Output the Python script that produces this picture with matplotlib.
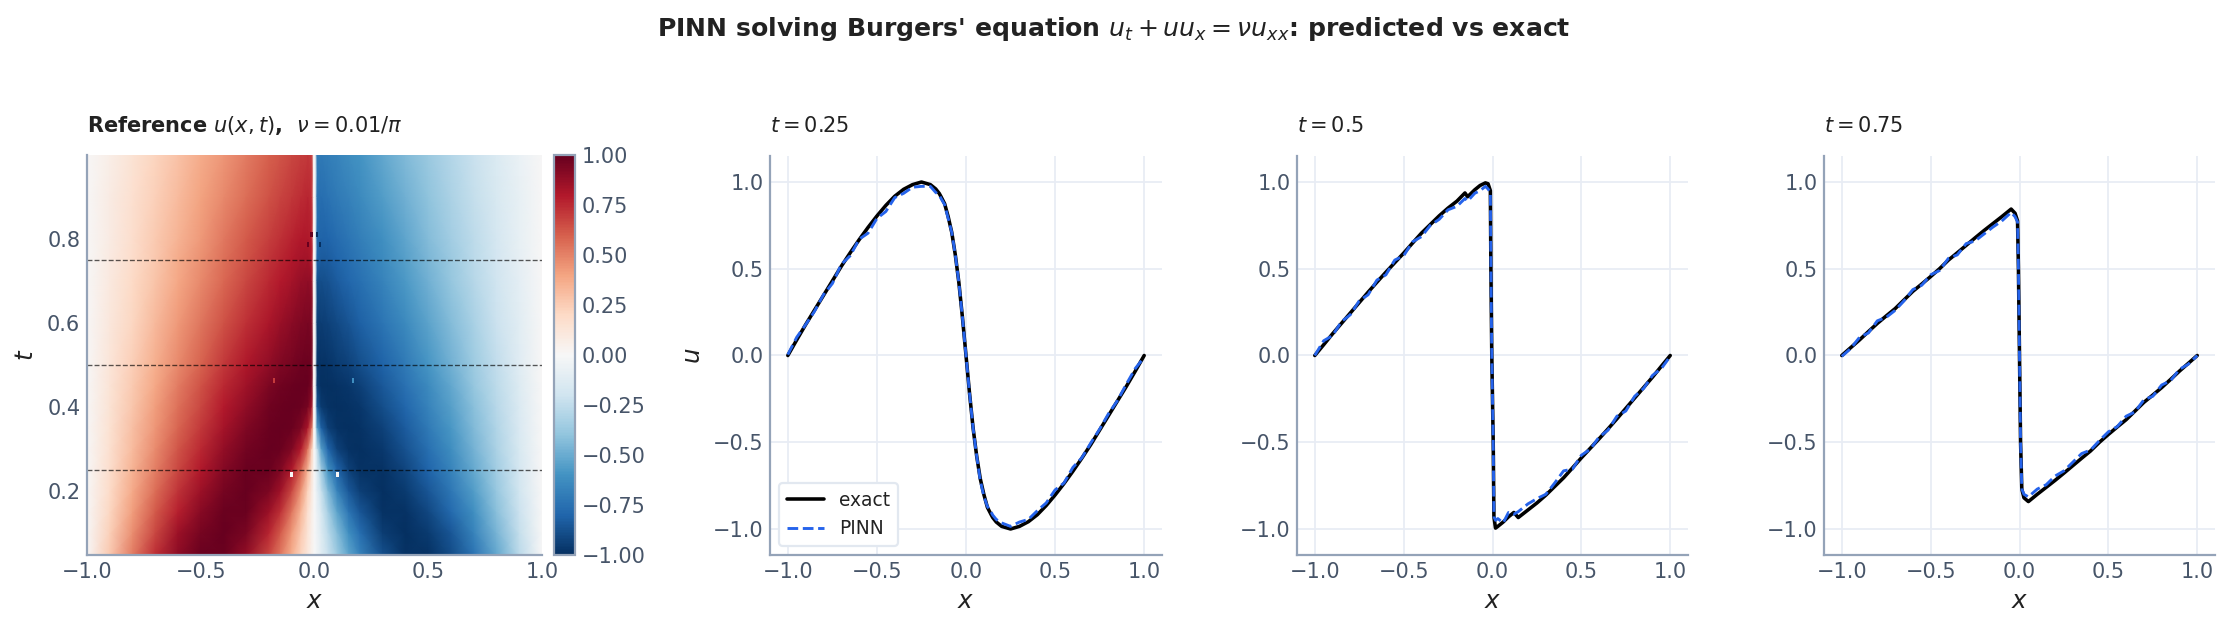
import numpy as np
import matplotlib
matplotlib.use("Agg")
import matplotlib.pyplot as plt
from matplotlib.colors import Normalize

W, H, DPI = 2230, 628, 160

# ---- heatmap values (left half; the picture is antisymmetric)
grid_x_left = [-1, -.9, -.8, -.7, -.6, -.5, -.4, -.3, -.2, -.15, -.1, -.06, -.03, -.012, -.004, 0]
grid_t = [.047, .10, .15, .20, .25, .30, .35, .40, .45, .50, .60, .70, .75, .80, .90, 1.0]
grid_u_left = [
    [0, .27, .52, .735, .895, .988, .988, .881, .669, .525, .363, .22, .11, .044, .015, 0],
    [0, .24, .464, .669, .857, .955, 1.0, .946, .76, .615, .434, .27, .135, .054, .018, 0],
    [0, .214, .417, .612, .777, .914, .989, .987, .858, .73, .536, .34, .17, .067, .022, 0],
    [0, .19, .377, .557, .72, .858, .96, 1.0, .94, .844, .67, .45, .23, .095, .03, 0],
    [0, .178, .346, .514, .667, .804, .918, .985, .985, .934, .80, .60, .34, .14, .04, 0],
    [0, .16, .32, .47, .625, .755, .875, .963, 1.0, .986, .93, .80, .55, .24, .06, 0],
    [0, .15, .30, .44, .585, .71, .83, .93, .99, 1.0, .99, .94, .82, .55, .08, 0],
    [0, .145, .28, .415, .55, .67, .79, .89, .97, .99, 1.0, .99, .96, .85, .06, 0],
    [0, .135, .265, .39, .52, .64, .75, .85, .94, .97, .99, 1.0, 1.0, .95, .04, 0],
    [0, .125, .245, .365, .48, .59, .705, .805, .89, .93, .955, .98, .99, .97, .04, 0],
    [0, .11, .215, .325, .43, .535, .635, .73, .82, .865, .905, .93, .95, .94, .04, 0],
    [0, .095, .20, .285, .39, .48, .578, .665, .755, .795, .835, .87, .888, .88, .04, 0],
    [0, .09, .185, .27, .37, .455, .55, .635, .72, .76, .80, .83, .84, .80, .04, 0],
    [0, .085, .175, .26, .35, .435, .525, .61, .69, .73, .77, .80, .81, .78, .04, 0],
    [0, .08, .16, .235, .32, .40, .48, .56, .64, .675, .71, .74, .76, .74, .04, 0],
    [0, .07, .145, .22, .295, .37, .445, .52, .595, .63, .665, .695, .71, .70, .04, 0],
]
# isolated odd cells in the heatmap
glitch_x = [-.10, .10, -.178, .169, -.013, .011, -.028, .024]
glitch_t = [.233, .233, .456, .456, .805, .805, .78, .78]
glitch_u = [0.0, 0.0, .70, -.62, 1.0, -1.0, 1.0, -1.0]

# ---- line panels
x_25 = [-1, -.95, -.9, -.85, -.8, -.75, -.7, -.65, -.6, -.55, -.5, -.45, -.4, -.35, -.3, -.25, -.2, -.17, -.15, -.14,
        -.12, -.1, -.08, -.06, -.05, -.04, -.02, -.01, 0, .01, .02, .04, .05, .06, .08, .1, .12, .14, .15, .17, .2,
        .25, .3, .35, .4, .45, .5, .55, .6, .65, .7, .75, .8, .85, .9, .95, 1]
exact_25 = [0, .09, .178, .262, .346, .43, .514, .592, .667, .738, .804, .865, .918, .958, .985, 1.0, .985, .96, .934,
            .915, .875, .80, .71, .58, .50, .42, .22, .11, 0, -.11, -.22, -.42, -.50, -.58, -.71, -.80, -.875, -.915,
            -.934, -.96, -.985, -1.0, -.985, -.958, -.918, -.865, -.804, -.738, -.667, -.592, -.514, -.43, -.346,
            -.262, -.178, -.09, 0]
pinn_25 = [.005, .105, .178, .255, .35, .415, .525, .575, .67, .705, .79, .83, .91, .935, .97, .975, .975, .94, .925,
           .905, .87, .79, .71, .58, .50, .42, .22, .11, 0, -.11, -.22, -.42, -.50, -.58, -.72, -.81, -.87, -.90,
           -.92, -.945, -.965, -.985, -.96, -.945, -.895, -.85, -.775, -.735, -.645, -.59, -.505, -.425, -.335,
           -.26, -.165, -.075, -.01]

x_50 = [-1, -.95, -.9, -.85, -.8, -.75, -.7, -.65, -.6, -.55, -.5, -.45, -.4, -.35, -.3, -.25, -.2, -.155, -.14,
        -.1, -.07, -.04, -.025, -.012, -.009, -.004, .004, .008, .017, .03, .06, .09, .12, .145, .2, .25, .3,
        .35, .4, .45, .5, .55, .6, .65, .7, .75, .8, .85, .9, .95, 1]
exact_50 = [0, .062, .125, .185, .245, .305, .365, .423, .48, .535, .59, .648, .705, .755, .805, .85, .89, .937,
            .915, .955, .98, .995, .99, .95, .5, 0, -.5, -.93, -.995, -.985, -.96, -.93, -.905, -.934, -.89,
            -.85, -.805, -.755, -.705, -.648, -.59, -.535, -.48, -.423, -.365, -.305, -.245, -.185, -.125,
            -.062, 0]
pinn_50 = [0, .085, .115, .195, .235, .315, .35, .435, .465, .55, .575, .655, .685, .75, .785, .84, .86, .905,
           .89, .935, .95, .975, .96, .94, .5, 0, -.5, -.93, -.95, -.94, -.965, -.905, -.915, -.90, -.855,
           -.825, -.80, -.735, -.665, -.655, -.575, -.54, -.47, -.43, -.35, -.32, -.235, -.19, -.115, -.075, -.005]

x_75 = [-1, -.95, -.9, -.85, -.8, -.75, -.7, -.65, -.6, -.55, -.5, -.45, -.4, -.35, -.3, -.25, -.2, -.15, -.1,
        -.047, -.025, -.011, -.006, 0, .006, .013, .025, .05, .1, .15, .2, .25, .3, .35, .4, .45, .5, .55, .6,
        .65, .7, .75, .8, .85, .9, .95, 1]
exact_75 = [0, .045, .09, .138, .185, .228, .27, .32, .37, .412, .455, .50, .55, .592, .635, .678, .72, .76, .80,
            .844, .82, .776, .5, 0, -.5, -.77, -.82, -.842, -.80, -.76, -.72, -.678, -.635, -.592, -.55, -.50,
            -.455, -.412, -.37, -.32, -.27, -.228, -.185, -.138, -.09, -.045, 0]
pinn_75 = [-.005, .04, .105, .13, .20, .22, .26, .315, .38, .405, .465, .49, .56, .58, .645, .66, .70, .74, .775,
           .825, .80, .77, .5, 0, -.5, -.77, -.80, -.815, -.77, -.745, -.695, -.665, -.615, -.565, -.545, -.49,
           -.44, -.41, -.35, -.325, -.255, -.235, -.17, -.145, -.08, -.05, 0]

panel_titles = [r"$t = 0.25$", r"$t = 0.5$", r"$t = 0.75$"]
cbar_ticks = [-1, -.75, -.5, -.25, 0, .25, .5, .75, 1]
line_ticks = [-1, -.5, 0, .5, 1]
t_ticks = [.2, .4, .6, .8]

SPINE = "#94a3b8"
TICK = "#475569"
GRID = "#e8ecf4"
TEXT = "#222222"
BLUE = "#2563eb"

plt.rcParams.update({"font.family": "DejaVu Sans", "font.size": 9.4})


def box(x0, x1, y0, y1):
    return [x0 / W, 1 - y1 / H, (x1 - x0) / W, (y1 - y0) / H]


fig = plt.figure(figsize=(W / DPI, H / DPI), dpi=DPI, facecolor="white")


def style(ax):
    for s in ("top", "right"):
        ax.spines[s].set_visible(False)
    for s in ("left", "bottom"):
        ax.spines[s].set_color(SPINE)
        ax.spines[s].set_linewidth(1.0)
    ax.tick_params(length=0, labelsize=9.4, labelcolor=TICK, pad=3)


# heatmap
ax0 = fig.add_axes(box(87, 542, 155, 555))
half_x = np.array(grid_x_left, float)
half_u = np.array(grid_u_left, float)
full_x = np.concatenate([half_x, -half_x[-2::-1]])
full_u = np.hstack([half_u, -half_u[:, -2::-1]])
norm = Normalize(-1, 1)
cmap = plt.get_cmap("RdBu_r")
mesh = ax0.pcolormesh(full_x, grid_t, full_u, cmap=cmap, norm=norm, shading="gouraud", rasterized=True)
ax0.bar(glitch_x, [.012] * len(glitch_x), width=.012, bottom=glitch_t, color=cmap(norm(glitch_u)), linewidth=0)
for t in (.25, .5, .75):
    ax0.axhline(t, color="black", lw=0.6, ls="--", alpha=.65)
ax0.set_xlim(-1, 1)
ax0.set_ylim(.047, 1.0)
ax0.set_xticks(line_ticks)
ax0.set_yticks(t_ticks)
ax0.set_xlabel(r"$x$", color=TEXT, fontsize=11, labelpad=3.5)
ax0.set_ylabel(r"$t$", color=TEXT, fontsize=11, labelpad=4)
style(ax0)
ax0.set_title(r"Reference $u(x,t)$,  $\nu = 0.01/\pi$", loc="left", fontsize=9.4, fontweight="bold",
              color=TEXT, pad=10.5)

cax = fig.add_axes(box(554, 575, 155, 555))
cb = fig.colorbar(mesh, cax=cax)
cb.set_ticks(cbar_ticks)
cb.set_ticklabels([f"{v:.2f}".replace("-", "\u2212") for v in cbar_ticks])
cb.outline.set_edgecolor(SPINE)
cb.outline.set_linewidth(1.0)
cax.tick_params(length=0, labelsize=9.4, labelcolor=TICK, pad=3)

# line panels
panels = [(770, 1162, x_25, exact_25, pinn_25), (1297, 1688, x_50, exact_50, pinn_50),
          (1824, 2215, x_75, exact_75, pinn_75)]
for i, (x0, x1, xs, ex, pn) in enumerate(panels):
    ax = fig.add_axes(box(x0, x1, 156, 555))
    ax.grid(True, color=GRID, lw=0.8)
    ax.set_axisbelow(True)
    ax.plot(xs, ex, color="black", lw=1.6, label="exact", solid_capstyle="round")
    ax.plot(xs, pn, color=BLUE, lw=1.3, ls="--", label="PINN")
    ax.set_xlim(-1.1, 1.1)
    ax.set_ylim(-1.15, 1.15)
    ax.set_xticks(line_ticks)
    ax.set_yticks(line_ticks)
    ax.set_xlabel(r"$x$", color=TEXT, fontsize=11, labelpad=3.5)
    style(ax)
    ax.set_title(panel_titles[i], loc="left", fontsize=9.4, color=TEXT, pad=11)
    if i == 0:
        ax.set_ylabel(r"$u$", color=TEXT, fontsize=11, labelpad=3.5)
        leg = ax.legend(loc="lower left", fontsize=8.4, frameon=True, framealpha=1, edgecolor="#e2e8f0",
                        borderaxespad=0.5)
        for t in leg.get_texts():
            t.set_color(TEXT)

fig.text(1114 / W, 1 - 29 / H, r"PINN solving Burgers' equation $u_t + uu_x = \nu u_{xx}$: predicted vs exact",
         ha="center", va="center", fontsize=11.3, fontweight="bold", color=TEXT)

fig.savefig("out.png", dpi=DPI)
